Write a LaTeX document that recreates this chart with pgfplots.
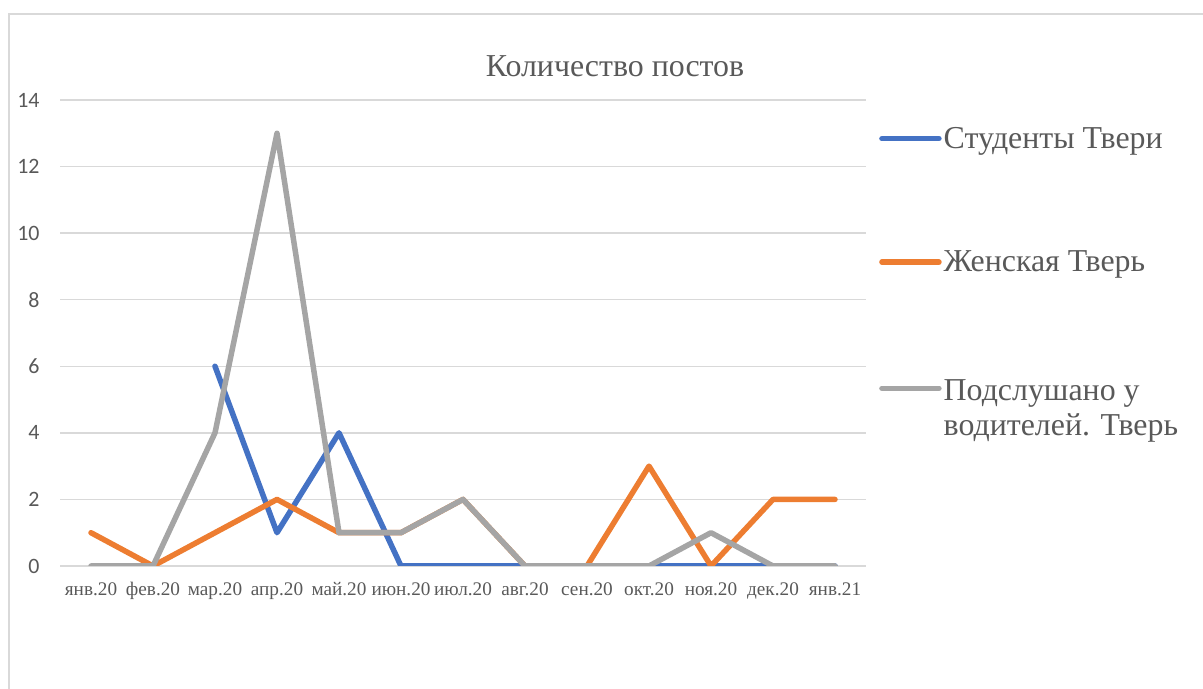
\documentclass[border=0pt]{standalone}
\usepackage{fontspec}
\setmainfont{Liberation Serif}
\newfontfamily\calibri{Carlito}
\usepackage{pgfplots}
\pgfplotsset{compat=1.18}
\definecolor{cblue}{HTML}{4472C4}
\definecolor{corange}{HTML}{ED7D31}
\definecolor{cgray}{HTML}{A5A5A5}
\definecolor{gridc}{HTML}{D9D9D9}
\definecolor{textc}{HTML}{595959}
\begin{document}
\begin{tikzpicture}[x=1bp,y=1bp]
\useasboundingbox (0,0) rectangle (1203,689);
\draw[gridc, line width=1.5bp] (9,0) -- (9,675) -- (1203,675);
\begin{axis}[
  at={(60bp,123bp)}, anchor=south west,
  scale only axis, width=806bp, height=466bp,
  xmin=-0.5, xmax=12.5, ymin=0, ymax=14,
  ytick={0,2,...,14},
  xtick={0,...,12},
  xticklabels={янв.20,фев.20,мар.20,апр.20,май.20,июн.20,июл.20,авг.20,сен.20,окт.20,ноя.20,дек.20,янв.21},
  axis line style={draw=none},
  major tick length=0pt,
  ymajorgrids, grid style={gridc, line width=1.5bp},
  yticklabel style={font=\calibri\fontsize{22}{24}\selectfont, text=textc, anchor=east, xshift=-17bp},
  xticklabel style={font=\fontsize{19.3}{22}\selectfont, text=textc, anchor=base, yshift=-30bp},
  /pgf/number format/assume math mode=true,
  title={Количество постов},
  title style={at={(0.6886,1.059)}, anchor=center, font=\fontsize{32}{38}\selectfont, text=textc},
  legend style={at={(1.0124,0.946)}, anchor=north west, draw=none, fill=none,
    font=\fontsize{32}{38}\selectfont, text=textc, row sep=101bp, column sep=2bp,
    nodes={inner sep=0pt}},
  legend cell align=left,
  legend image code/.code={\draw[#1, line width=5.5bp, line cap=round] (0bp,0bp) -- (57bp,0bp);},
]
\addplot[cblue, line width=5.5bp, line cap=round, line join=round] coordinates {(2,6) (3,1) (4,4) (5,0) (6,0) (7,0) (8,0) (9,0) (10,0) (11,0) (12,0)};
\addlegendentry{Студенты Твери}
\addplot[corange, line width=5.5bp, line cap=round, line join=round] coordinates {(0,1) (1,0) (2,1) (3,2) (4,1) (5,1) (6,2) (7,0) (8,0) (9,3) (10,0) (11,2) (12,2)};
\addlegendentry{Женская Тверь}
\addplot[cgray, line width=5.5bp, line cap=round, line join=round] coordinates {(0,0) (1,0) (2,4) (3,13) (4,1) (5,1) (6,2) (7,0) (8,0) (9,0) (10,1) (11,0) (12,0)};
\addlegendentry{\raisebox{0pt}[\height][0pt]{\begin{tabular}[t]{@{}l@{}}Подслушано у\\[-3bp]водителей. Тверь\end{tabular}}}
\end{axis}
\end{tikzpicture}
\end{document}
